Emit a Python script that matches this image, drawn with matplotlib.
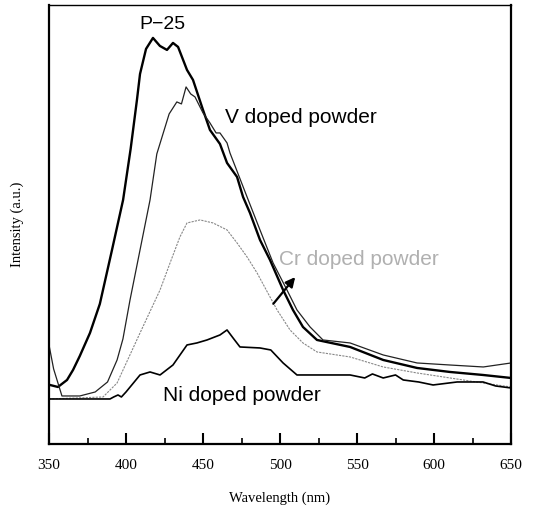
import numpy as np
import matplotlib.pyplot as plt

# values (arbitrary intensity units)
wl_p25 = [350.6, 355.8, 361.7, 365.6, 370.0, 376.6, 383.0, 390.9, 398.1, 403.0, 407.1, 409.1,
          413.0, 417.5, 422.0, 426.6, 430.5, 433.8, 439.6, 443.5, 450.0, 454.5, 461.0,
          465.6, 472.1, 476.0, 480.5, 487.0, 493.5, 502.0, 508.4, 514.9, 524.0, 545.5,
          567.0, 589.0, 610.4, 631.8, 650.0]
int_p25 = [59, 57, 64, 74, 88, 111, 140, 194, 244, 295, 344, 370,
           395, 406, 398, 394, 401, 397, 374, 364, 334, 314, 300,
           281, 267, 247, 231, 204, 184, 154, 134, 117, 104, 97,
           84, 76, 72, 69, 66]

wl_v = [350.0, 353.0, 358.4, 370.0, 380.0, 388.0, 394.2, 398.0, 402.6, 409.1, 415.6,
        420.0, 428.0, 433.0, 436.0, 439.0, 442.0, 444.8, 450.0, 454.5, 456.5, 458.5,
        461.0, 465.6, 467.5, 478.6, 487.0, 495.5, 504.5, 511.0, 519.5, 527.9, 545.5,
        567.0, 589.0, 610.0, 632.0, 650.0]
int_v = [99, 75, 48, 48, 52, 62, 84, 105, 144, 194, 244,
         290, 330, 342, 340, 357, 350, 347, 331, 321, 316, 311,
         311, 301, 291, 247, 214, 181, 154, 134, 117, 104, 101,
         89, 81, 79, 77, 81]

wl_cr = [350.0, 385.1, 394.2, 409.1, 422.1, 428.6, 435.0, 439.6, 448.1, 456.5, 465.6,
         472.1, 478.6, 485.1, 493.5, 498.1, 506.5, 514.9, 524.0, 545.5, 567.0, 589.0,
         610.4, 631.8, 650.0]
int_cr = [45, 47, 61, 111, 154, 181, 207, 221, 224, 221, 214,
          201, 187, 171, 147, 134, 114, 101, 92, 87, 77, 71,
          66, 61, 57]

wl_ni = [350.0, 389.6, 392.0, 394.8, 397.0, 400.0, 409.1, 415.6, 422.1, 430.5, 439.6,
         446.0, 452.6, 461.0, 465.6, 470.0, 474.0, 487.0, 494.0, 502.0, 511.0, 530.0,
         545.5, 555.0, 560.0, 567.0, 575.0, 580.0, 590.0, 599.4, 615.0, 631.8, 640.0,
         650.0]
int_ni = [45, 45, 47, 49, 47, 52, 69, 72, 69, 79, 99,
          101, 104, 109, 114, 105, 97, 96, 94, 81, 69, 69,
          69, 66, 70, 66, 69, 64, 62, 59, 62, 62, 58,
          56]

fig = plt.figure(figsize=(5.35, 5.07), dpi=100)
ax = fig.add_axes([0.0916, 0.1243, 0.8636, 0.866])

ax.plot(wl_p25, int_p25, color='black', lw=1.7)
ax.plot(wl_v, int_v, color='#222222', lw=0.9)
ax.plot(wl_cr, int_cr, color='#888888', lw=0.8, linestyle=(0, (2, 1)))
ax.plot(wl_ni, int_ni, color='black', lw=1.2)

ax.set_xlim(350, 650)
ax.set_ylim(0, 439)
ax.set_xticks(np.arange(350, 651, 50))
ax.set_xticks(np.arange(375, 650, 50), minor=True)
ax.set_yticks([])
ax.tick_params(axis='x', which='major', direction='in', length=8, width=1.5, pad=11)
ax.tick_params(axis='x', which='minor', direction='in', length=4, width=1.2)
for lab in ax.get_xticklabels():
    lab.set_family('Liberation Serif')
    lab.set_fontsize(11)
for s in ['left', 'bottom', 'right']:
    ax.spines[s].set_linewidth(1.6)
ax.spines['top'].set_linewidth(1.0)

ax.set_xlabel('Wavelength (nm)', family='Liberation Serif', fontsize=10.5, labelpad=14)
ax.set_ylabel('Intensity (a.u.)', family='Liberation Serif', fontsize=10.5, labelpad=18)

sans = 'Liberation Sans'
ax.text(423.4, 419, 'P\u221225', family=sans, fontsize=14, ha='center', va='center')
ax.text(464.3, 326, 'V doped powder', family=sans, fontsize=15, ha='left', va='center')
ax.text(499.4, 184, 'Cr doped powder', family=sans, fontsize=15, ha='left', va='center',
        color='#b0b0b0')
ax.text(424.0, 48, 'Ni doped powder', family=sans, fontsize=15, ha='left', va='center')
ax.annotate('', xy=(511, 169), xytext=(494.5, 138),
            arrowprops=dict(arrowstyle='-|>', color='black', lw=1.6, mutation_scale=14))

fig.savefig('out.png', dpi=100)
